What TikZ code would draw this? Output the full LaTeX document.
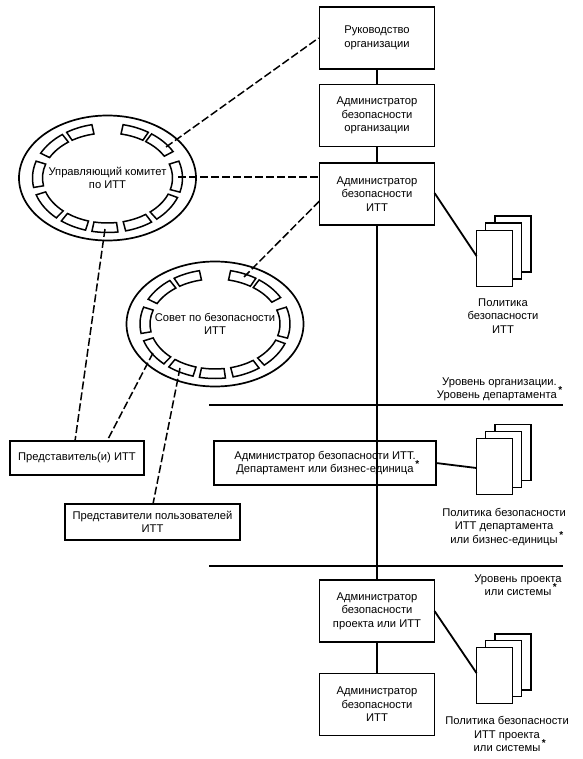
\documentclass[tikz,border=0pt]{standalone}
\usepackage{fontspec}
\setmainfont{Liberation Sans}
\usetikzlibrary{shapes.geometric}
\newcommand{\stmark}{\rlap{\smash{\raisebox{0.45em}{\normalsize\bfseries\,*}}}}
\tikzset{
  x=1pt,y=1pt,
  txt/.style={font=\fontsize{11.2}{13.5}\selectfont,align=center,inner sep=0pt},
  box/.style={draw,line width=1.8pt,rectangle,inner sep=0pt,minimum width=115pt,minimum height=62pt,txt},
  ring/.style={draw,line width=1.7pt,ellipse,inner sep=0pt,minimum width=177pt,minimum height=125pt,txt},
  seg/.style={draw,line width=1.5pt,line join=miter},
  link/.style={line width=1.8pt},
  dlink/.style={line width=1.5pt,dash pattern=on 8pt off 3pt},
  rule/.style={line width=1.7pt},
  sheet/.style={draw,fill=white,line width=1.8pt,rectangle,inner sep=0pt,minimum width=36pt,minimum height=56pt},
  lab/.style={txt},
}
\newcommand{\ringsegs}[2]{%
  \begin{scope}[shift={(#1,-#2)}]
  \foreach \ta/\tb in {78/57,54/29,18/-15,-21/-49,-54/-76,-82/-102,-107/-128,-133/-162,-170/-198,-207/-233,-237/-258}{
    \draw[seg] (\ta:75 and 54.5) arc[start angle=\ta,end angle=\tb,x radius=75,y radius=54.5]
      -- (\tb:65 and 45) arc[start angle=\tb,end angle=\ta,x radius=65,y radius=45] -- cycle;
  }
  \end{scope}}
\begin{document}
\begin{tikzpicture}
\useasboundingbox (0,0) rectangle (582,-759);
% boxes
\node[box] (b1) at (377,-38) {Руководство\\организации};
\node[box] (b2) at (377,-115.5) {Администратор\\безопасности\\организации};
\node[box] (b3) at (377,-194) {Администратор\\безопасности\\ИТТ};
\node[box,minimum width=222pt,minimum height=44pt] (b4) at (325,-463) {Администратор безопасности ИТТ.\\Департамент или бизнес-единица\stmark};
\node[box] (b5) at (377,-611) {Администратор\\безопасности\\проекта или ИТТ};
\node[box] (b6) at (377,-704.5) {Администратор\\безопасности\\ИТТ};
\node[box,minimum width=134pt,minimum height=34pt] (r1) at (77,-458) {Представитель(и) ИТТ};
\node[box,minimum width=175pt,minimum height=36pt] (r2) at (152.5,-522) {Представители пользователей\\ИТТ};
% rings
\node[ring] (e1) at (107.5,-178) {Управляющий комитет\\по ИТТ};
\node[ring] (e2) at (215,-324) {Совет по безопасности\\ИТТ};
\ringsegs{107.5}{178}
\ringsegs{215}{324}
% rules
\coordinate (h1a) at (209,-405); \coordinate (h1b) at (563,-405);
\coordinate (h2a) at (209,-566); \coordinate (h2b) at (563,-566);
\draw[rule] (h1a) -- (h1b);
\draw[rule] (h2a) -- (h2b);
% document stacks
\node[sheet] (s1c) at (513,-244) {};
\node[sheet] (s1b) at (503.5,-251) {};
\node[sheet] (s1a) at (494.5,-258.5) {};
\node[sheet] (s2c) at (513,-452.5) {};
\node[sheet] (s2b) at (503.5,-459.5) {};
\node[sheet] (s2a) at (494.5,-466.5) {};
\node[sheet] (s3c) at (513,-662) {};
\node[sheet] (s3b) at (503.5,-668.5) {};
\node[sheet] (s3a) at (494.5,-675.5) {};
% solid connectors
\draw[link] (b1.south) -- (b2.north);
\draw[link] (b2.south) -- (b3.north);
\draw[link] (b3.south) -- (b5.north);
\draw[link] (b5.south) -- (b6.north);
\coordinate (p1a) at (434.5,-193); \coordinate (p1b) at (476.5,-256);
\coordinate (p2a) at (436,-463);   \coordinate (p2b) at (476.5,-468);
\coordinate (p3a) at (434.5,-611); \coordinate (p3b) at (476.5,-673);
\draw[link] (p1a) -- (p1b);
\draw[link] (p2a) -- (p2b);
\draw[link] (p3a) -- (p3b);
% dashed connectors
\coordinate (e1a) at (166,-147);
\coordinate (e1b) at (178,-177);
\coordinate (b3a) at (319.5,-177);
\coordinate (e1c) at (105,-229);
\coordinate (r1a) at (75,-441);
\coordinate (e2a) at (244,-277);
\coordinate (b3b) at (319.5,-201);
\coordinate (e2b) at (153,-353);
\coordinate (r1b) at (107,-441);
\coordinate (e2c) at (180,-368);
\coordinate (r2a) at (153,-504);
\draw[dlink] (e1a) -- (b1.west);
\draw[dlink] (e1b) -- (b3a);
\draw[dlink] (e1c) -- (r1a);
\draw[dlink] (e2a) -- (b3b);
\draw[dlink] (e2b) -- (r1b);
\draw[dlink] (e2c) -- (r2a);
% labels
\node[lab] (l1) at (503,-316) {Политика\\безопасности\\ИТТ};
\node[lab] (l2) at (504,-527) {Политика безопасности\\ИТТ департамента\\или бизнес-единицы\stmark};
\node[lab] (l3) at (507,-734) {Политика безопасности\\ИТТ проекта\\или системы\stmark};
\node[lab,align=right,anchor=east] (l4) at (557,-389.5) {Уровень организации.\\Уровень департамента\stmark};
\node[lab] (l5) at (518,-585) {Уровень проекта\\или системы\stmark};
\end{tikzpicture}
\end{document}
